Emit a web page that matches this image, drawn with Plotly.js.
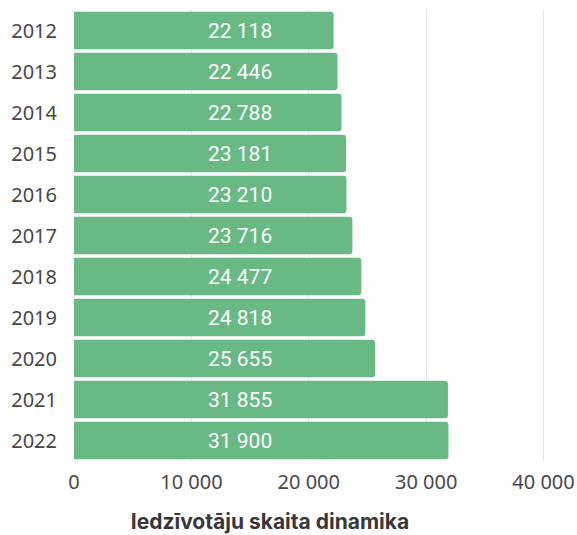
<!DOCTYPE html>
<html>
<head>
<meta charset="utf-8">
<script src="https://cdn.plot.ly/plotly-3.0.1.min.js"></script>
<style>html,body{margin:0;padding:0;background:#fff;}#chart{width:577px;height:535px;}</style>
</head>
<body>
<div id="chart"></div>
<script>
const years = ["2012","2013","2014","2015","2016","2017","2018","2019","2020","2021","2022"];
const population = [22118, 22446, 22788, 23181, 23210, 23716, 24477, 24818, 25655, 31855, 31900];
const tickValues = [0, 10000, 20000, 30000, 40000];
const chartTitle = "Iedzīvotāju skaita dinamika";
const labelAnchorValue = 14100;

function fmt(v) {
  return String(v).replace(/\B(?=(\d{3})+(?!\d))/g, ' ');
}

const trace = {
  type: 'bar',
  orientation: 'h',
  y: years,
  x: population,
  marker: {color: '#69b985', line: {width: 0}},
  hoverinfo: 'none'
};

const labels = years.map((yr, i) => ({
  x: labelAnchorValue, y: i,
  xref: 'x', yref: 'y',
  text: fmt(population[i]),
  showarrow: false,
  xanchor: 'center', yanchor: 'middle',
  font: {family: 'Roboto, "Noto Sans", sans-serif', size: 21, color: '#ffffff'}
}));

const layout = {
  width: 577, height: 535,
  margin: {l: 74, r: 0, t: 10, b: 74},
  paper_bgcolor: '#ffffff', plot_bgcolor: '#ffffff',
  separators: '. ',
  bargap: 0.09,
  barcornerradius: 3,
  showlegend: false,
  font: {family: '"Noto Sans", "Open Sans", sans-serif', color: '#474747', size: 20},
  title: {
    text: chartTitle,
    x: 270 / 577, xanchor: 'center', xref: 'container',
    y: 0.012, yanchor: 'bottom', yref: 'container',
    font: {family: 'Inter, Roboto, sans-serif', size: 21, weight: 700, color: '#383838'}
  },
  xaxis: {
    range: [0, 42850],
    tickvals: tickValues,
    tickformat: ',d',
    showgrid: true, gridcolor: '#e6e6e6', gridwidth: 1,
    zeroline: false, showline: false, ticks: '',
    tickfont: {size: 20, color: '#474747'},
    ticklabelstandoff: 7
  },
  yaxis: {
    type: 'category',
    categoryorder: 'array', categoryarray: years,
    range: [years.length - 0.5, -0.5],
    showgrid: false, zeroline: false, showline: false, ticks: '',
    tickfont: {size: 20, color: '#474747'},
    ticklabelstandoff: 16
  },
  annotations: labels
};

Plotly.newPlot('chart', [trace], layout, {displayModeBar: false, staticPlot: true});
</script>
</body>
</html>
